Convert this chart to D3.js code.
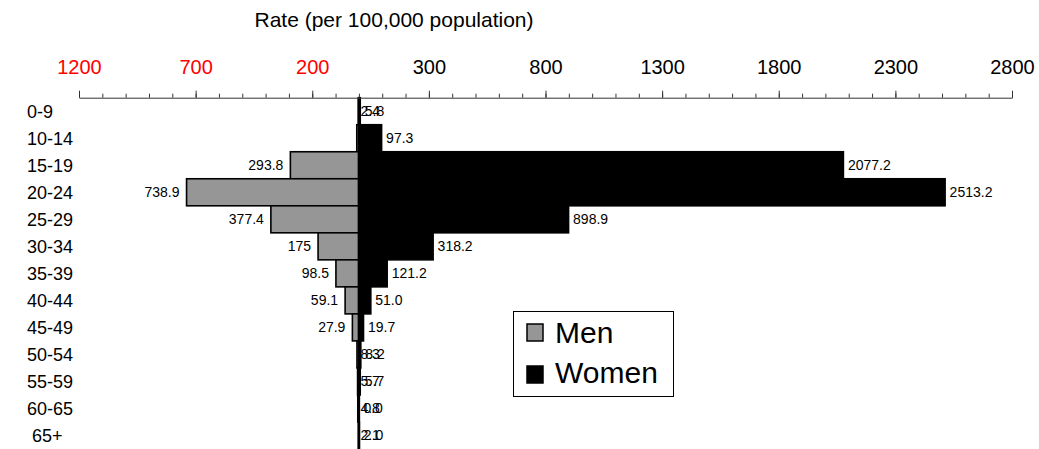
<!DOCTYPE html>
<html>
<head>
<meta charset="utf-8">
<script src="https://cdn.jsdelivr.net/npm/d3@7"></script>
<style>
  html, body { margin: 0; padding: 0; background: #fff; }
  svg { display: block; font-family: "Liberation Sans", Arial, sans-serif; }
</style>
</head>
<body>
<svg id="chart" width="1039" height="449"></svg>
<script>
const categories = ["0-9", "10-14", "15-19", "20-24", "25-29", "30-34", "35-39", "40-44", "45-49", "50-54", "55-59", "60-65", " 65+"];
const men   = [2.4, 9.1, 293.8, 738.9, 377.4, 175, 98.5, 59.1, 27.9, 8.3, 5.7, 4.8, 2.1];
const menLabels = ["2.4", "9.1", "293.8", "738.9", "377.4", "175", "98.5", "59.1", "27.9", "8.3", "5.7", "4.8", "2.1"];
const women = [5.8, 97.3, 2077.2, 2513.2, 898.9, 318.2, 121.2, 51.0, 19.7, 8.2, 5.7, 0.0, 2.0];
const tickMajor = [-1200, -700, -200, 300, 800, 1300, 1800, 2300, 2800];
const seriesNames = ["Men", "Women"];
const titleText = "Rate (per 100,000 population)";

const svg = d3.select("#chart");
const axisY = 97.7;

const x = d3.scaleLinear().domain([-1200, 2800]).range([79, 1012]);
const y = d3.scaleBand().domain(categories).range([axisY, 449]).padding(0);

// Title
svg.append("text")
  .attr("x", 394).attr("y", 27)
  .attr("text-anchor", "middle")
  .attr("font-size", 21)
  .text(titleText);

// Bars: men (negative side)
svg.append("g").selectAll("rect")
  .data(categories)
  .join("rect")
  .attr("x", (d, i) => x(-men[i]))
  .attr("y", d => y(d))
  .attr("width", (d, i) => x(0) - x(-men[i]))
  .attr("height", y.bandwidth())
  .attr("fill", "#969696")
  .attr("stroke", "#000")
  .attr("stroke-width", 1.6);

// Bars: women
svg.append("g").selectAll("rect")
  .data(categories)
  .join("rect")
  .attr("x", x(0))
  .attr("y", d => y(d))
  .attr("width", (d, i) => x(women[i]) - x(0))
  .attr("height", y.bandwidth())
  .attr("fill", "#000")
  .attr("stroke", "#000")
  .attr("stroke-width", 1.6);

// Zero line
svg.append("line")
  .attr("x1", x(0)).attr("x2", x(0))
  .attr("y1", axisY).attr("y2", 449)
  .attr("stroke", "#000").attr("stroke-width", 2.5);

// Data labels
const lab = svg.append("g").attr("font-size", 14).attr("fill", "#000");
lab.selectAll("text.m")
  .data(categories)
  .join("text")
  .attr("class", "m")
  .attr("x", (d, i) => men[i] < 15 ? x(0) + 1.5 : x(-men[i]) - 7)
  .attr("y", d => y(d) + y.bandwidth() / 2)
  .attr("dy", "0.35em")
  .attr("text-anchor", (d, i) => men[i] < 15 ? "start" : "end")
  .text((d, i) => menLabels[i]);
lab.selectAll("text.w")
  .data(categories)
  .join("text")
  .attr("class", "w")
  .attr("x", (d, i) => x(women[i]) + 4.5)
  .attr("y", d => y(d) + y.bandwidth() / 2)
  .attr("dy", "0.35em")
  .text((d, i) => d3.format(".1f")(women[i]));

// Category labels
svg.append("g").selectAll("text")
  .data(categories)
  .join("text")
  .attr("x", 27)
  .attr("y", d => y(d) + y.bandwidth() / 2)
  .attr("dy", "0.35em")
  .attr("font-size", 18)
  .style("white-space", "pre")
  .text(d => d);

// Top axis: minor ticks
const minorAxis = d3.axisTop(x).tickValues(d3.range(-1200, 2801, 100)).tickSize(4).tickSizeOuter(0).tickFormat("");
const gMinor = svg.append("g").attr("transform", `translate(0,${axisY})`).call(minorAxis);
gMinor.select(".domain").attr("stroke", "#333");
gMinor.selectAll(".tick line").attr("stroke", "#333");

// Top axis: major ticks
const majorAxis = d3.axisTop(x).tickValues(tickMajor).tickSize(7).tickSizeOuter(0).tickPadding(17)
  .tickFormat(d => Math.abs(d));
const gMajor = svg.append("g").attr("transform", `translate(0,${axisY})`).call(majorAxis);
gMajor.select(".domain").remove();
gMajor.selectAll(".tick line").attr("stroke", "#333");
gMajor.selectAll(".tick text")
  .attr("font-size", 20)
  .attr("font-family", "'Liberation Sans', Arial, sans-serif")
  .attr("dy", "0")
  .attr("fill", d => d < 0 ? "#ff0000" : "#000");

// Legend
const leg = svg.append("g");
leg.append("rect")
  .attr("x", 513.5).attr("y", 311.5).attr("width", 160).attr("height", 85)
  .attr("fill", "#fff").attr("stroke", "#000").attr("stroke-width", 1);
const legColors = ["#969696", "#000"];
seriesNames.forEach((name, i) => {
  leg.append("rect")
    .attr("x", 527).attr("y", 324 + i * 42)
    .attr("width", 16).attr("height", 17)
    .attr("fill", legColors[i]).attr("stroke", "#000").attr("stroke-width", 1.5);
  leg.append("text")
    .attr("x", 555).attr("y", 343 + i * 40)
    .attr("font-size", 30)
    .text(name);
});
</script>
</body>
</html>
